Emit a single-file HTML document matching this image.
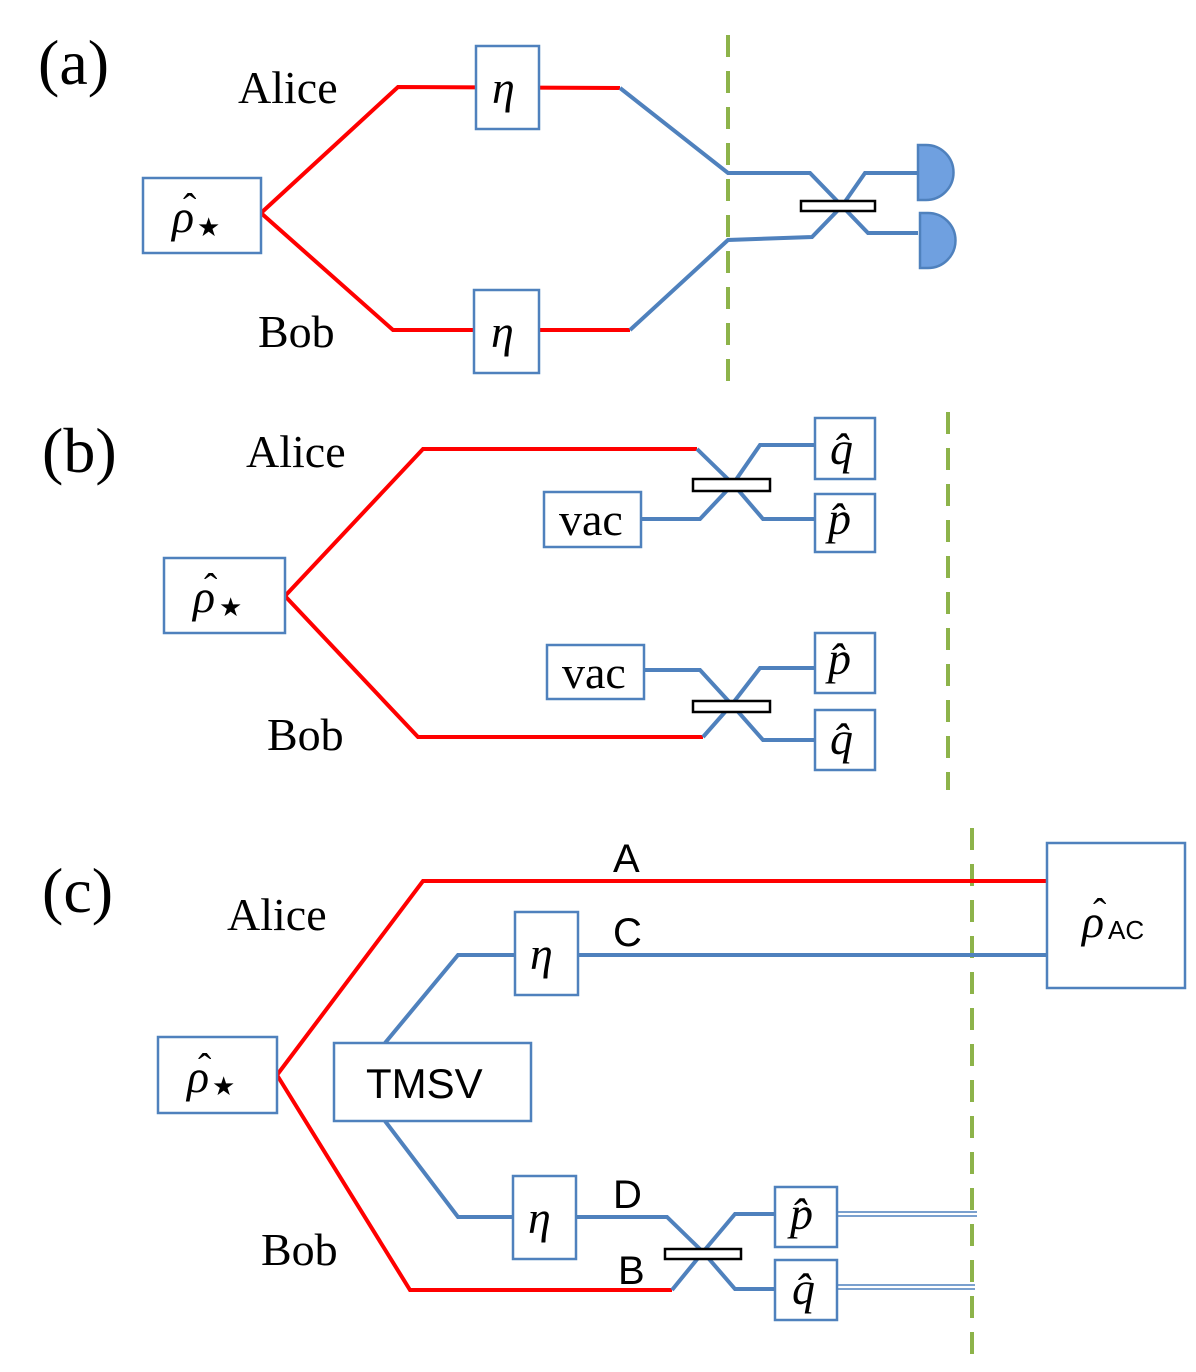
<!DOCTYPE html>
<html><head><meta charset="utf-8"><style>
body{margin:0;background:#fff}
svg{display:block}
.r{stroke:#f00;stroke-width:4;fill:none}
.b{stroke:#4f81bd;stroke-width:4;fill:none}
.bx{fill:#fff;stroke:#4f81bd;stroke-width:2.5}
.g{stroke:#8db34a;stroke-width:4;stroke-dasharray:22 14;fill:none}
.bs{fill:#fff;stroke:#000;stroke-width:2.5}
.t{font-family:"Liberation Serif",serif;font-size:46px;fill:#000}
.m{font-family:"Liberation Serif",serif;font-style:italic;font-size:46px;fill:#000}
.h{font-family:"Liberation Serif",serif;font-size:40px;fill:#000}
.s{font-family:"Liberation Sans",sans-serif;font-size:40px;fill:#000}
</style></head><body>
<svg width="1196" height="1372" viewBox="0 0 1196 1372">
<!-- (a) -->
<text class="t" x="38" y="84" style="font-size:64px">(a)</text>
<text class="t" x="238" y="103">Alice</text>
<text class="t" x="258" y="347">Bob</text>
<line class="g" x1="728" y1="35" x2="728" y2="382"/>
<polyline class="r" points="261,213 398,87 620,88"/>
<polyline class="r" points="261,213 393,330 630,330"/>
<polyline class="b" points="620,88 728,173 810,173 842,206 865,173 918,173"/>
<polyline class="b" points="630,330 728,240 812,237 842,206 868,233 918,233"/>
<rect class="bs" x="801" y="201" width="74" height="10"/>
<path d="M918,145 h8 a27,27 0 0 1 0,55 h-8 z" fill="#6fa0e0" stroke="#4f81bd" stroke-width="2.5"/>
<path d="M920,213 h8 a27,27 0 0 1 0,55 h-8 z" fill="#6fa0e0" stroke="#4f81bd" stroke-width="2.5"/>
<rect class="bx" x="143" y="178" width="118" height="75"/>
<text class="m" x="172" y="232">ρ</text><text class="h" x="183" y="221">ˆ</text><text x="197" y="236" font-size="26" font-family="DejaVu Sans">★</text>
<rect class="bx" x="476" y="46" width="63" height="83"/>
<text class="m" x="492" y="103">η</text>
<rect class="bx" x="474" y="290" width="65" height="83"/>
<text class="m" x="491" y="347">η</text>
<!-- (b) -->
<text class="t" x="42" y="472" style="font-size:64px">(b)</text>
<text class="t" x="246" y="467">Alice</text>
<text class="t" x="267" y="750">Bob</text>
<line class="g" x1="948" y1="412" x2="948" y2="790"/>
<polyline class="r" points="285,596 423,449 697,449"/>
<polyline class="r" points="285,596 418,737 703,737"/>
<polyline class="b" points="697,449 733,484 760,445 815,445"/>
<polyline class="b" points="641,519 700,519 733,484 763,519 815,519"/>
<polyline class="b" points="703,737 733,703 760,668 815,668"/>
<polyline class="b" points="644,670 700,670 733,706 763,740 815,740"/>
<rect class="bs" x="693" y="479" width="77" height="12"/>
<rect class="bs" x="693" y="701" width="77" height="11"/>
<rect class="bx" x="164" y="558" width="121" height="75"/>
<text class="m" x="193" y="612">ρ</text><text class="h" x="204" y="601">ˆ</text><text x="219" y="616" font-size="26" font-family="DejaVu Sans">★</text>
<rect class="bx" x="544" y="492" width="97" height="55"/><text class="t" x="559" y="535">vac</text>
<rect class="bx" x="547" y="645" width="97" height="54"/><text class="t" x="562" y="688">vac</text>
<rect class="bx" x="815" y="418" width="60" height="61"/><text class="m" x="830" y="464">q̂</text>
<rect class="bx" x="815" y="494" width="60" height="58"/><text class="m" x="828" y="534">p̂</text>
<rect class="bx" x="815" y="633" width="60" height="60"/><text class="m" x="828" y="674">p̂</text>
<rect class="bx" x="815" y="710" width="60" height="60"/><text class="m" x="830" y="754">q̂</text>
<!-- (c) -->
<text class="t" x="42" y="912" style="font-size:64px">(c)</text>
<text class="t" x="227" y="930">Alice</text>
<text class="t" x="261" y="1265">Bob</text>
<line class="g" x1="972" y1="828" x2="972" y2="1362"/>
<polyline class="r" points="277,1075 423,881 1047,881"/>
<polyline class="r" points="277,1075 410,1290 672,1290"/>
<polyline class="b" points="385,1043 458,955 515,955"/>
<line class="b" x1="578" y1="955" x2="1047" y2="955"/>
<polyline class="b" points="385,1121 458,1217 513,1217"/>
<polyline class="b" points="576,1217 667,1217 703,1252 735,1214 775,1214"/>
<polyline class="b" points="672,1290 703,1252 735,1289 775,1289"/>
<g stroke="#4f81bd" stroke-width="1.5"><line x1="837" y1="1212" x2="977" y2="1212"/><line x1="837" y1="1216" x2="977" y2="1216"/><line x1="837" y1="1285" x2="975" y2="1285"/><line x1="837" y1="1289" x2="975" y2="1289"/></g>
<rect class="bs" x="665" y="1249" width="76" height="10"/>
<text class="s" x="613" y="872">A</text>
<text class="s" x="613" y="946">C</text>
<text class="s" x="613" y="1208">D</text>
<text class="s" x="618" y="1284">B</text>
<rect class="bx" x="158" y="1037" width="119" height="76"/>
<text class="m" x="187" y="1092">ρ</text><text class="h" x="198" y="1081">ˆ</text><text x="212" y="1095" font-size="26" font-family="DejaVu Sans">★</text>
<rect class="bx" x="334" y="1043" width="197" height="78"/>
<text class="s" x="366" y="1098" style="font-size:42px">TMSV</text>
<rect class="bx" x="515" y="912" width="63" height="83"/><text class="m" x="530" y="969">η</text>
<rect class="bx" x="513" y="1176" width="63" height="83"/><text class="m" x="528" y="1233">η</text>
<rect class="bx" x="775" y="1187" width="62" height="60"/><text class="m" x="790" y="1229">p̂</text>
<rect class="bx" x="775" y="1260" width="62" height="60"/><text class="m" x="792" y="1304">q̂</text>
<rect class="bx" x="1047" y="843" width="138" height="145"/>
<text class="m" x="1082" y="937">ρ</text><text class="h" x="1093" y="926">ˆ</text><text x="1108" y="939" font-family="Liberation Sans,sans-serif" font-size="26">AC</text>
</svg>
</body></html>
